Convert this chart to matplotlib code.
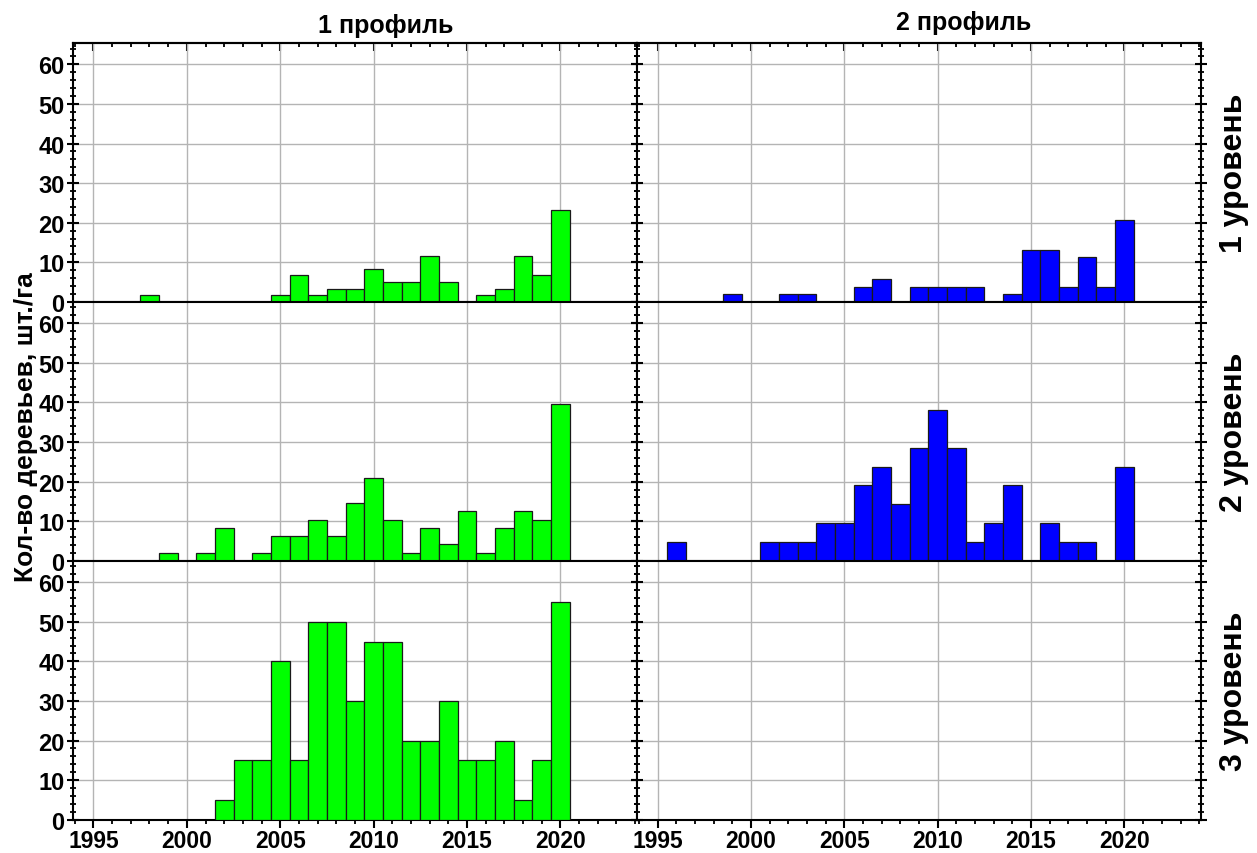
import matplotlib.pyplot as plt
import numpy as np
from matplotlib.ticker import MultipleLocator

plt.rcParams['font.family'] = ['Liberation Sans', 'DejaVu Sans']
plt.rcParams['font.weight'] = 'bold'

years = np.arange(1995, 2021)

# 1 профиль
p1_lvl1 = [0, 0, 0, 1.67, 0, 0, 0, 0, 0, 0, 1.67, 6.67, 1.67, 3.33, 3.33, 8.33,
           5, 5, 11.67, 5, 0, 1.67, 3.33, 11.67, 6.67, 23.33]
p1_lvl2 = [0, 0, 0, 0, 2.08, 0, 2.08, 8.33, 0, 2.08, 6.25, 6.25, 10.42, 6.25, 14.58, 20.83,
           10.42, 2.08, 8.33, 4.17, 12.5, 2.08, 8.33, 12.5, 10.42, 39.58]
p1_lvl3 = [0, 0, 0, 0, 0, 0, 0, 5, 15, 15, 40, 15, 50, 50, 30, 45,
           45, 20, 20, 30, 15, 15, 20, 5, 15, 55]
# 2 профиль
p2_lvl1 = [0, 0, 0, 0, 1.89, 0, 0, 1.89, 1.89, 0, 0, 3.77, 5.66, 0, 3.77, 3.77,
           3.77, 3.77, 0, 1.89, 13.2, 13.2, 3.77, 11.3, 3.77, 20.75]
p2_lvl2 = [0, 4.76, 0, 0, 0, 0, 4.76, 4.76, 4.76, 9.52, 9.52, 19.05, 23.81, 14.29, 28.57, 38.1,
           28.57, 4.76, 9.52, 19.05, 0, 9.52, 4.76, 4.76, 0, 23.81]
p2_lvl3 = [0] * 26

col_titles = ['1 профиль', '2 профиль']
row_titles = ['1 уровень', '2 уровень', '3 уровень']
ylabel = 'Кол-во деревьев, шт./га'

data = [[p1_lvl1, p2_lvl1], [p1_lvl2, p2_lvl2], [p1_lvl3, p2_lvl3]]
colors = ['#00ff00', '#0000ff']

fig, axes = plt.subplots(3, 2, figsize=(12.57, 8.54), dpi=100)
fig.subplots_adjust(left=0.058, right=0.9555, top=0.9485, bottom=0.039, hspace=0, wspace=0)

for r in range(3):
    for c in range(2):
        ax = axes[r, c]
        vals = np.array(data[r][c])
        m = vals > 0
        ax.bar(years[m], vals[m], width=1.0, color=colors[c], edgecolor='#1a1a1a', linewidth=0.9, zorder=3)
        ax.set_xlim(1993.9, 2024.1)
        ax.set_ylim(0, 65.4)
        ax.xaxis.set_major_locator(MultipleLocator(5))
        ax.xaxis.set_minor_locator(MultipleLocator(1))
        ax.yaxis.set_major_locator(MultipleLocator(10))
        ax.yaxis.set_minor_locator(MultipleLocator(2))
        ax.grid(True, which='major', color='#b4b4b4', linewidth=1.0, zorder=0)
        ax.set_axisbelow(True)
        ax.tick_params(axis='x', which='both', direction='out', bottom=True, top=False, pad=0.5)
        ax.tick_params(axis='x', which='major', length=6, width=1.5, labelsize=16.5)
        ax.tick_params(axis='x', which='minor', length=3, width=1.3)
        ax.tick_params(axis='y', which='both', direction='inout', left=True, right=True, pad=2)
        ax.tick_params(axis='y', which='major', length=8, width=1.5, labelsize=17)
        ax.tick_params(axis='y', which='minor', length=5, width=1.3)
        for s in ax.spines.values():
            s.set_linewidth(1.5)
        if c == 1:
            ax.tick_params(labelleft=False)
        if r < 2:
            ax.tick_params(labelbottom=False)
        if r == 0:
            top = ax.secondary_xaxis('top')
            top.xaxis.set_major_locator(MultipleLocator(5))
            top.xaxis.set_minor_locator(MultipleLocator(1))
            top.tick_params(which='both', direction='in', labeltop=False)
            top.tick_params(which='major', length=6, width=1.5)
            top.tick_params(which='minor', length=3, width=1.3)
            top.spines['top'].set_linewidth(1.5)
        for lab in ax.get_xticklabels() + ax.get_yticklabels():
            lab.set_fontweight('bold')

fig.text(0.307, 0.970, col_titles[0], fontsize=18, fontweight='bold', ha='center', va='center')
fig.text(0.767, 0.973, col_titles[1], fontsize=18, fontweight='bold', ha='center', va='center')

for r in range(3):
    pos = axes[r, 1].get_position()
    fig.text(0.982, (pos.y0 + pos.y1) / 2, row_titles[r], fontsize=23, fontweight='bold',
             rotation=90, ha='center', va='center')

fig.text(0.021, 0.5, ylabel, fontsize=19, fontweight='bold', rotation=90, ha='center', va='center')

plt.savefig('out.png', dpi=100)
